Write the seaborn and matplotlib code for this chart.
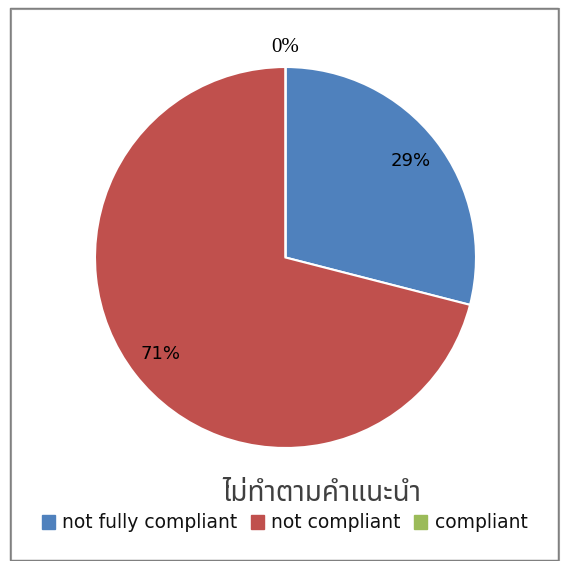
import matplotlib.pyplot as plt
import seaborn as sns
from matplotlib.patches import Rectangle
import numpy as np

# data
categories = ["not fully compliant", "not compliant", "compliant"]
shares = [29, 71, 0]
title = "ไม่ทำตามคำแนะนำ"
colors = ["#4F81BD", "#C0504D", "#9BBB59"]

sns.set_theme(style="white")
plt.rcParams['font.family'] = ['DejaVu Sans', 'Noto Sans', 'Liberation Sans']

fig = plt.figure(figsize=(5.69, 5.61), dpi=100)
ax = fig.add_axes([95 / 569, 1 - 448 / 561, 381 / 569, 381 / 561])

wedges, texts, autotexts = ax.pie(
    shares, colors=colors, startangle=90, counterclock=False,
    autopct=lambda p: f"{p:.0f}%", pctdistance=0.83,
    wedgeprops=dict(edgecolor="white", linewidth=1.5),
    textprops=dict(fontsize=13, color="black"))
ax.set_aspect("equal")
ax.set_xlim(-1, 1)
ax.set_ylim(-1, 1)

# the empty slice label sits outside the pie
x, y = autotexts[2].get_position()
r = np.hypot(x, y)
autotexts[2].set_position((x / r * 1.1, y / r * 1.1))
autotexts[2].set_fontfamily(['Liberation Serif', 'DejaVu Serif'])
autotexts[2].set_fontsize(15)

fig.text(322 / 569, 1 - 494 / 561, title, ha="center", va="center", fontsize=20,
         color="#404040", family=['Noto Sans Thai', 'Tahoma', 'DejaVu Sans'])

handles = [Rectangle((0, 0), 1, 1, color=c) for c in colors]
fig.legend(handles, categories, loc="center", bbox_to_anchor=(0.5, 1 - 523 / 561),
           ncol=3, frameon=False, fontsize=13.5, handlelength=0.7, handleheight=0.7,
           handletextpad=0.4, columnspacing=0.7, labelcolor="#111111")

# outer frame with shadow on the right and bottom
fig.patches.append(Rectangle((11 / 569, 1 - 561 / 561), 548 / 569, 552 / 561,
                             transform=fig.transFigure, fill=False,
                             edgecolor="#a0a0a0", linewidth=1.5, zorder=0))
fig.patches.append(Rectangle((10 / 569, 1 - 560 / 561), 548 / 569, 552 / 561,
                             transform=fig.transFigure, fill=False,
                             edgecolor="#808080", linewidth=1.0, zorder=1))

fig.savefig("out.png", dpi=100)
